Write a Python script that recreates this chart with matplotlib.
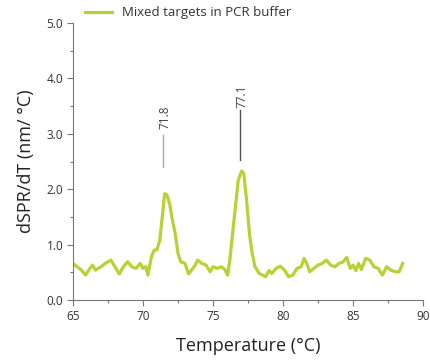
import matplotlib
matplotlib.use("Agg")
import matplotlib.pyplot as plt
from matplotlib.ticker import MultipleLocator

temperature = [65.0, 65.3, 65.6, 65.9, 66.2, 66.4, 66.6, 67.0, 67.3, 67.7, 68.0, 68.3, 68.6, 68.9,
               69.2, 69.5, 69.8, 70.0, 70.2, 70.35, 70.6, 70.8, 71.0, 71.2, 71.4, 71.55, 71.7, 71.9,
               72.1, 72.3, 72.5, 72.7, 73.0, 73.25, 73.5, 73.7, 73.9, 74.2, 74.5, 74.8, 75.0,
               75.3, 75.6, 75.85, 76.05, 76.2, 76.4, 76.6, 76.8, 77.05, 77.2, 77.4, 77.6, 77.8,
               78.0, 78.3, 78.55, 78.75, 79.0, 79.2, 79.5, 79.8, 80.1, 80.4, 80.7, 81.0, 81.3,
               81.5, 81.7, 81.9, 82.2, 82.5, 82.8, 83.1, 83.4, 83.7, 84.0, 84.3, 84.55, 84.8,
               85.0, 85.2, 85.4, 85.6, 85.9, 86.2, 86.5, 86.8, 87.1, 87.4, 87.7, 88.0, 88.3, 88.55]
dspr = [0.66, 0.60, 0.54, 0.45, 0.57, 0.63, 0.54, 0.60, 0.66, 0.72, 0.60, 0.47, 0.60, 0.69,
        0.60, 0.57, 0.66, 0.57, 0.60, 0.45, 0.78, 0.90, 0.91, 1.08, 1.56, 1.92, 1.90, 1.74,
        1.44, 1.20, 0.84, 0.69, 0.66, 0.47, 0.55, 0.62, 0.72, 0.66, 0.63, 0.51, 0.60,
        0.57, 0.60, 0.55, 0.45, 0.72, 1.20, 1.68, 2.16, 2.33, 2.28, 1.80, 1.20, 0.84,
        0.60, 0.48, 0.45, 0.42, 0.53, 0.48, 0.57, 0.61, 0.54, 0.42, 0.45, 0.57, 0.60,
        0.75, 0.66, 0.51, 0.57, 0.63, 0.66, 0.72, 0.63, 0.60, 0.66, 0.69, 0.77, 0.57,
        0.63, 0.53, 0.66, 0.55, 0.75, 0.72, 0.60, 0.57, 0.45, 0.60, 0.54, 0.51, 0.51, 0.66]

peak_temps = [71.45, 76.9]
peak_label_x = [71.6, 77.05]
peak_labels = ["71.8", "77.1"]
peak_line_ranges = [(2.40, 2.97), (2.52, 3.43)]
peak_label_y = [3.3, 3.68]
peak_line_colors = ["#aaaaaa", "#555555"]

line_color = "#b5d334"
axis_color = "#777777"
text_color = "#333333"

plt.rcParams['font.family'] = ['Open Sans', 'DejaVu Sans']

fig = plt.figure(figsize=(4.31, 3.62), dpi=100)
ax = fig.add_axes([73/431, 62/362, 350/431, 277/362])

ax.plot(temperature, dspr, color=line_color, lw=2.3, label="Mixed targets in PCR buffer",
        solid_joinstyle="round")

for t, tx, lab, (y0, y1), ly, c in zip(peak_temps, peak_label_x, peak_labels, peak_line_ranges,
                                        peak_label_y, peak_line_colors):
    ax.plot([t, t], [y0, y1], color=c, lw=1.0)
    ax.text(tx, ly, lab, rotation=90, ha="center", va="center", fontsize=8.5, color="#444444")

ax.set_xlim(65, 90)
ax.set_ylim(0, 5)
ax.xaxis.set_major_locator(MultipleLocator(5))
ax.xaxis.set_minor_locator(MultipleLocator(2.5))
ax.yaxis.set_major_locator(MultipleLocator(1))
ax.yaxis.set_minor_locator(MultipleLocator(0.5))
ax.set_yticks([0, 1, 2, 3, 4, 5])
ax.set_yticklabels(["0.0", "1.0", "2.0", "3.0", "4.0", "5.0"])

for s in ["top", "right"]:
    ax.spines[s].set_visible(False)
for s in ["left", "bottom"]:
    ax.spines[s].set_color(axis_color)
    ax.spines[s].set_linewidth(0.8)

ax.tick_params(which="major", length=4, width=0.8, color=axis_color, labelsize=8.5,
               labelcolor=text_color, pad=3)
ax.tick_params(which="minor", length=2, width=0.8, color=axis_color)

ax.set_xlabel("Temperature (°C)", fontsize=13, color="#222222", labelpad=10)
ax.set_ylabel("dSPR/dT (nm/ °C)", fontsize=13, color="#222222", labelpad=8)

ax.legend(loc="center left", bbox_to_anchor=(0.035, 1.037), frameon=False, fontsize=9.5,
          handlelength=2.0, handletextpad=0.8, labelcolor=text_color, borderaxespad=0, borderpad=0)

fig.savefig("out.png", dpi=100)
